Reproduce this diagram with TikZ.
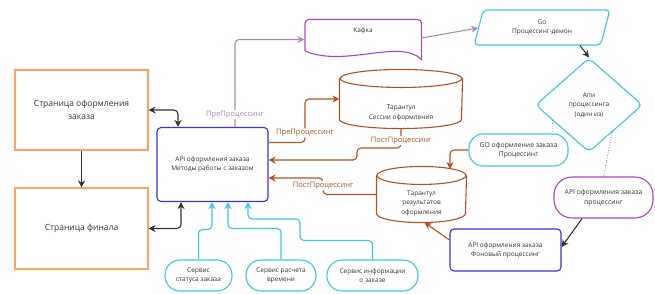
\documentclass[tikz,border=0pt]{standalone}
\usepackage{fontspec}
\setmainfont{Open Sans}
\usetikzlibrary{arrows.meta, shapes.geometric, calc}
\definecolor{pageorange}{HTML}{FFA364}
\definecolor{apiblue}{HTML}{3B30F0}
\definecolor{tankbrown}{HTML}{B5521F}
\definecolor{svccyan}{HTML}{3CC6F4}
\definecolor{kafkapurple}{HTML}{B440CC}
\definecolor{prelilac}{HTML}{A98BC0}
\definecolor{ink}{HTML}{333333}
\tikzset{%
	page/.style={
		draw=pageorange,
		minimum width=133pt,
		minimum height=80pt,
		align=center,
		font=\fontsize{8.5}{12.5}\selectfont
	},
	apibox/.style={
		draw=apiblue,
		rounded corners=4pt,
		align=center,
		font=\fontsize{6.5}{8.7}\selectfont
	},
	pill/.style={
		rounded corners=15pt,
		align=center,
		font=\fontsize{6.8}{9.5}\selectfont
	},
	tank/.style={
		draw=none
	},
	tankline/.style={
		draw=tankbrown
	},
	smalltext/.style={
		align=center,
		font=\fontsize{6.5}{9.5}\selectfont
	},
	flowlabel/.style={
		fill=white,
		inner sep=1pt,
		font=\fontsize{7.5}{9}\selectfont
	},
	brownflow/.style={
		draw=tankbrown,
		text=tankbrown,
		rounded corners=4pt,
		->
	},
	cyanflow/.style={
		draw=svccyan,
		rounded corners=4pt,
		->
	},
	darkflow/.style={
		draw=ink,
		rounded corners=4pt
	},
}

\begin{document}
\begin{tikzpicture}[x=1pt, y=-1pt, line width=1.1pt, text=ink,
	>={Stealth[length=7pt, width=7pt]}]
	\useasboundingbox (0,0) rectangle (655,293);
	
	\node [page] (checkout) at (81.5,110) {Страница оформления\\заказа};
	\node [page, minimum height=81pt] (final) at (81.5,228.5) {Страница финала};
	\node [apibox, minimum width=111pt, minimum height=74pt] (api) at (212.5,164.5)
	{API оформления заказа\\Методы работы с заказом};
	
	\node [minimum width=116pt, minimum height=39pt] (kafka) at (363,39.5) {};
	\draw [kafkapurple] (305,51) [rounded corners=4pt] |- (kafka.north east)
	[sharp corners] -- (kafka.south east)
	.. controls (400,38) and (345,68) .. (305,51);
	\node [smalltext] (kafka-text) at (363,30.5) {Кафка};
	
	\node [trapezium, trapezium left angle=77, trapezium right angle=103,
	trapezium stretches=true, minimum width=136pt, minimum height=35pt,
	draw=svccyan, rounded corners=4pt, smalltext] (godemon) at (542,27.5)
	{Go\\Процессинг-демон};
	
	\node [diamond, draw=svccyan, minimum width=107pt, minimum height=94pt,
	inner sep=0pt, rounded corners=5pt, smalltext] (router) at (589,105)
	{Апи\\процессинга\\(один из)};
	
	\node [tank, minimum width=122pt, minimum height=58pt] (sessions) at (401,99) {};
	\node [tank, minimum width=89pt, minimum height=55pt] (results) at (421.5,194.5) {};
	\foreach \t/\r in {sessions/61, results/44.5}
	{
		\draw [tankline] ([yshift=-9pt]\t.north west) -- ([yshift=9pt]\t.south west)
		arc [start angle=180, end angle=0, x radius=\r, y radius=9]
		-- ([yshift=-9pt]\t.north east);
		\draw [tankline] ([yshift=-9pt]\t.north) ellipse [x radius=\r, y radius=9];
	}
	\node [smalltext] (sessions-text) at ([yshift=-14pt]sessions.center)
	{Тарантул\\Сессии оформления};
	\node [smalltext] (results-text) at ([yshift=-8.5pt]results.center)
	{Тарантул\\результатов\\оформления};
	
	\node [pill, draw=svccyan, rounded corners=14pt, minimum width=99pt,
	minimum height=32pt] (goproc) at (518.5,150) {GO оформление заказа\\Процессинг};
	\node [pill, draw=kafkapurple, rounded corners=18pt, minimum width=99pt,
	minimum height=41pt] (apiproc) at (603.5,197.5) {API оформления заказа\\процессинг};
	\node [apibox, minimum width=111pt, minimum height=42pt] (background) at (505.5,250)
	{API оформления заказа\\Фоновый процессинг};
	
	\foreach \n/\x/\w/\l in {status/198.5/67/{Сервис\\статуса заказа},
		timing/281/70/{Сервис расчета\\времени},
		info/372.5/91/{Сервис информации\\о заказе}}
	\node [pill, draw=svccyan, minimum width=\w pt, minimum height=31pt,
	font=\fontsize{6.5}{9.5}\selectfont] (svc-\n) at (\x,275.5) {\l};
	
	% pages and the api
	\draw [darkflow, <->] (checkout.east) -| ([xshift=-34.5pt]api.north);
	\draw [darkflow, ->] (checkout) -- (final);
	\draw [darkflow, <->] (final.east) -| ([xshift=-31.5pt]api.south);
	
	% preprocessing through kafka
	\draw [prelilac, rounded corners=4pt, ->] ([xshift=22.5pt]api.north) |- (kafka.west)
	node [flowlabel, text=prelilac, pos=0.07] {ПреПроцессинг};
	\draw [prelilac, ->] ([yshift=1.5pt]kafka.east) -- ([yshift=-0.5pt]godemon.west);
	\draw [darkflow, ->] ([xshift=38pt]godemon.south) -- (router.north);
	
	% tarantool flows
	\draw [brownflow] ([yshift=22pt]api.east) -- (305,142.5)
	-- node [flowlabel, pos=0.22] {ПреПроцессинг} (305,99) -- (sessions.west);
	\draw [brownflow] (sessions.south)
	-- node [flowlabel, pos=0.62] {ПостПроцессинг} (401,148)
	-- (357,148) -- (357,160) -- ([yshift=4.5pt]api.east);
	\draw [brownflow] (results.west) -- (323,194.5)
	-- node [flowlabel, pos=0.55] {ПостПроцессинг} (323,178)
	-- ([yshift=-13.5pt]api.east);
	\draw [brownflow] (goproc.west) -| (450,169);
	\draw [brownflow] ([yshift=10pt]background.west) -- ([xshift=3pt]results.south);
	
	% router choices
	\draw [ink, line width=0.6pt, dotted] ($(router.west)!0.327!(router.south)$)
	-- ([xshift=34.5pt]goproc.north);
	\draw [ink, line width=0.6pt, dotted] ($(router.south)!0.43!(router.east)$)
	-- (apiproc.north);
	\draw [darkflow, ->] ([xshift=-21.5pt]apiproc.south) -- ([yshift=3pt]background.east);
	
	% services into the api
	\draw [cyanflow] (svc-status.north) -- ++(0,-30) -| ([xshift=-0.5pt]api.south);
	\draw [cyanflow] (svc-timing.north) -- ++(0,-31) -| ([xshift=15.5pt]api.south);
	\draw [cyanflow] (svc-info.north) -- ++(0,-19) -| (300,219)
	-| ([xshift=35.5pt]api.south);
	
\end{tikzpicture}
\end{document}
